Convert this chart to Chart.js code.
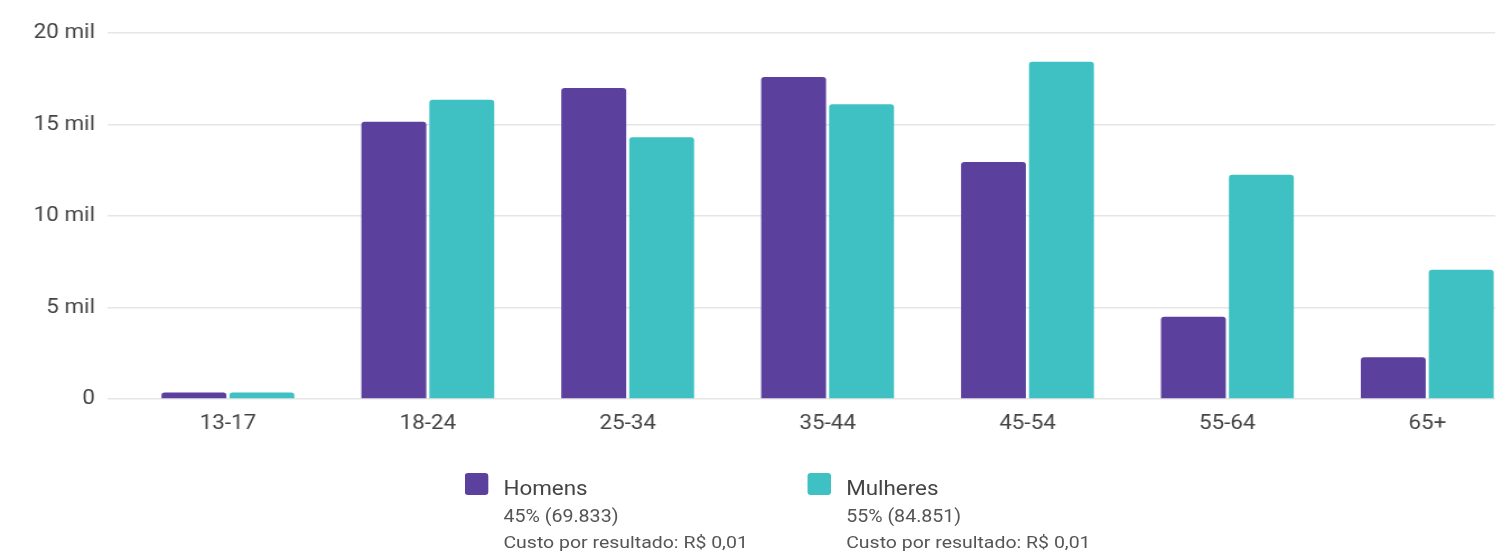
<!DOCTYPE html>
<html>
<head>
<meta charset="utf-8">
<script src="https://cdn.jsdelivr.net/npm/chart.js@4/dist/chart.umd.min.js"></script>
<style>
  html, body { margin: 0; padding: 0; background: #fff; overflow: hidden; }
  #wrap { position: absolute; left: 0; top: 0; width: 1340px; height: 552px; transform: scaleX(1.12); transform-origin: 0 0; }
  #c { position: absolute; left: 0; top: 0; width: 1340px; height: 552px; }
  .lg { position: absolute; font-family: Roboto, sans-serif; white-space: nowrap; line-height: 1; }
  .sw { position: absolute; width: 20.5px; height: 22px; border-radius: 3px; }
  .t1 { font-size: 20px; color: #444; }
  .t2 { font-size: 17.5px; color: #555; }
  .t3 { font-size: 17.4px; color: #555; }
</style>
</head>
<body>
<div id="wrap">
  <canvas id="c" width="1340" height="552"></canvas>
  <div id="legend"></div>
</div>
<script>
const categories = ['13-17', '18-24', '25-34', '35-44', '45-54', '55-64', '65+'];
const homens = [350, 15150, 17000, 17600, 12950, 4500, 2280];
const mulheres = [350, 16350, 14300, 16100, 18430, 12250, 7060];
const yTicks = [0, 5000, 10000, 15000, 20000];
const yTickLabels = ['0', '5 mil', '10 mil', '15 mil', '20 mil'];
const seriesNames = ['Homens', 'Mulheres'];
const seriesShare = ['45% (69.833)', '55% (84.851)'];
const seriesCost = ['Custo por resultado: R$ 0,01', 'Custo por resultado: R$ 0,01'];
const colors = ['#5b409e', '#3fc1c3'];

Chart.defaults.font.family = 'Roboto, sans-serif';

const toPoints = arr => arr.map((v, i) => ({ x: i, y: v }));

new Chart(document.getElementById('c'), {
  type: 'bar',
  data: {
    datasets: [
      { label: seriesNames[0], data: toPoints(homens), backgroundColor: colors[0],
        borderRadius: 3, borderSkipped: 'start', categoryPercentage: 0.68, barPercentage: 0.955 },
      { label: seriesNames[1], data: toPoints(mulheres), backgroundColor: colors[1],
        borderRadius: 3, borderSkipped: 'start', categoryPercentage: 0.68, barPercentage: 0.955 }
    ]
  },
  options: {
    responsive: false,
    animation: false,
    layout: { padding: { top: 33, right: 5, bottom: 0, left: 0 } },
    plugins: { legend: { display: false }, tooltip: { enabled: false } },
    scales: {
      x: {
        type: 'linear',
        offset: false,
        min: -0.6,
        max: 6.34,
        afterBuildTicks: s => { s.ticks = categories.map((_, i) => ({ value: i })); },
        afterFit: s => { s.height = 153; },
        grid: { display: false },
        border: { display: false },
        ticks: {
          callback: v => categories[v] ?? '',
          font: { size: 20 },
          color: '#444',
          padding: 5,
          maxRotation: 0,
          autoSkip: false
        }
      },
      y: {
        min: 0,
        max: 20000,
        afterBuildTicks: s => { s.ticks = yTicks.map(v => ({ value: v })); },
        afterFit: s => { s.width = 96.4; },
        border: { display: false },
        grid: { color: '#e6e6e6', lineWidth: 1.5, drawTicks: false },
        ticks: {
          callback: v => yTickLabels[yTicks.indexOf(v)] ?? '',
          font: { size: 20 },
          color: '#444',
          padding: 11.6
        }
      }
    }
  }
});

// HTML legend (wrapper coordinates, scaled by 1.12 horizontally)
const legend = document.getElementById('legend');
const baseX = [415, 721];
seriesNames.forEach((name, i) => {
  const sw = document.createElement('div');
  sw.className = 'sw';
  sw.style.left = baseX[i] + 'px';
  sw.style.top = '473px';
  sw.style.background = colors[i];
  legend.appendChild(sw);
  const lines = [[name, 't1', 478], [seriesShare[i], 't2', 507.5], [seriesCost[i], 't3', 533.5]];
  lines.forEach(([txt, cls, top]) => {
    const d = document.createElement('div');
    d.className = 'lg ' + cls;
    d.style.left = (baseX[i] + 34.5) + 'px';
    d.style.top = top + 'px';
    d.textContent = txt;
    legend.appendChild(d);
  });
});
</script>
</body>
</html>
